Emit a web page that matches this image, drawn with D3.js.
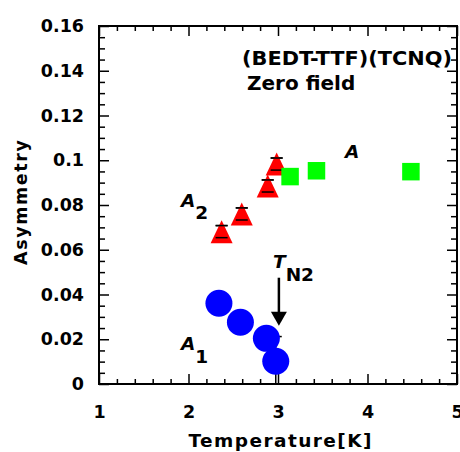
<!DOCTYPE html>
<html>
<head>
<meta charset="utf-8">
<script src="https://cdn.jsdelivr.net/npm/d3@7/dist/d3.min.js"></script>
<style>
  body { margin: 0; background: #fff; }
  svg text { font-family: "DejaVu Sans", Arial, sans-serif; font-weight: bold; fill: #000; }
</style>
</head>
<body>
<div id="chart"></div>
<script>
// A1 (blue circles)
const a1Temp = [2.34, 2.58, 2.87, 2.975];
const a1Asym = [0.0361, 0.0276, 0.0204, 0.0102];
const a1Err = [0.003, 0.003, 0.003, 0.011];

// A2 (red triangles)
const a2Temp = [2.37, 2.595, 2.885, 2.985];
const a2Asym = [0.0681, 0.076, 0.0885, 0.0983];
const a2Err = [0.0027, 0.0027, 0.0027, 0.0027];

// A (green squares)
const aTemp = [3.135, 3.43, 4.485];
const aAsym = [0.0927, 0.0953, 0.0949];

const xTicks = [1, 2, 3, 4, 5];
const yTicks = [0, 0.02, 0.04, 0.06, 0.08, 0.1, 0.12, 0.14, 0.16];

// T_N2 arrow (temperature, from asymmetry, to asymmetry)
const tn2Arrow = [3.01, 0.0475, 0.026];

const width = 460, height = 452;
const margin = { top: 26, right: 3, bottom: 68, left: 99 };
const innerW = width - margin.left - margin.right;
const innerH = height - margin.top - margin.bottom;

const svg = d3.select("#chart").append("svg")
  .attr("width", width)
  .attr("height", height);

const g = svg.append("g")
  .attr("transform", "translate(" + margin.left + "," + margin.top + ")");

const x = d3.scaleLinear().domain([1, 5]).range([0, innerW]);
const y = d3.scaleLinear().domain([0, 0.16]).range([innerH, 0]);

const xMinor = d3.range(1, 5.001, 0.2).filter(v => Math.abs(v - Math.round(v)) > 1e-6);
const yMinor = d3.range(0, 0.1601, 0.005).filter(v => Math.abs(v / 0.02 - Math.round(v / 0.02)) > 1e-6);

const fmtY = d => d === 0 ? "0" : String(+d.toFixed(2));

// major axes with labels (ticks pointing inward)
g.append("g").attr("class", "axis")
  .attr("transform", "translate(0," + innerH + ")")
  .call(d3.axisBottom(x).tickValues(xTicks).tickSize(-10).tickSizeOuter(0).tickPadding(22).tickFormat(d3.format("d")));
g.append("g").attr("class", "axis")
  .call(d3.axisLeft(y).tickValues(yTicks).tickSize(-10).tickSizeOuter(0).tickPadding(15).tickFormat(fmtY));
g.append("g").attr("class", "axis")
  .call(d3.axisTop(x).tickValues(xTicks).tickSize(-10).tickSizeOuter(0).tickFormat(""));
g.append("g").attr("class", "axis")
  .attr("transform", "translate(" + innerW + ",0)")
  .call(d3.axisRight(y).tickValues(yTicks).tickSize(-10).tickSizeOuter(0).tickFormat(""));

// minor ticks
g.append("g").attr("class", "axis")
  .attr("transform", "translate(0," + innerH + ")")
  .call(d3.axisBottom(x).tickValues(xMinor).tickSize(-5).tickSizeOuter(0).tickFormat(""));
g.append("g").attr("class", "axis")
  .call(d3.axisTop(x).tickValues(xMinor).tickSize(-5).tickSizeOuter(0).tickFormat(""));
g.append("g").attr("class", "axis")
  .call(d3.axisLeft(y).tickValues(yMinor).tickSize(-6).tickSizeOuter(0).tickFormat(""));
g.append("g").attr("class", "axis")
  .attr("transform", "translate(" + innerW + ",0)")
  .call(d3.axisRight(y).tickValues(yMinor).tickSize(-6).tickSizeOuter(0).tickFormat(""));

g.selectAll(".axis .domain").remove();
g.selectAll(".axis line").attr("stroke", "#000").attr("stroke-width", 1.5);
g.selectAll(".axis text")
  .style("font-size", "17.5px")
  .style("font-family", "'DejaVu Sans', Arial, sans-serif")
  .style("font-weight", "bold")
  .attr("fill", "#000");

g.append("rect")
  .attr("width", innerW).attr("height", innerH)
  .attr("fill", "none").attr("stroke", "#000").attr("stroke-width", 2);

// clip for error bars
svg.append("defs").append("clipPath").attr("id", "plotClip")
  .append("rect").attr("width", innerW).attr("height", innerH);

const plot = g.append("g").attr("clip-path", "url(#plotClip)");

const a1 = a1Temp.map((t, i) => ({ t: t, v: a1Asym[i], e: a1Err[i] }));
const a2 = a2Temp.map((t, i) => ({ t: t, v: a2Asym[i], e: a2Err[i] }));
const aa = aTemp.map((t, i) => ({ t: t, v: aAsym[i] }));

function errorBars(sel, data, capOnly) {
  const eb = sel.selectAll(null).data(data).enter().append("g");
  if (!capOnly) {
    eb.append("line")
      .attr("x1", d => x(d.t)).attr("x2", d => x(d.t))
      .attr("y1", d => y(d.v + d.e)).attr("y2", d => y(d.v - d.e))
      .attr("stroke", "#000").attr("stroke-width", 1.5);
  }
  eb.append("line")
    .attr("x1", d => x(d.t) - 6).attr("x2", d => x(d.t) + 6)
    .attr("y1", d => y(d.v + d.e)).attr("y2", d => y(d.v + d.e))
    .attr("stroke", "#000").attr("stroke-width", 1.5);
  eb.append("line")
    .attr("x1", d => x(d.t) - 6).attr("x2", d => x(d.t) + 6)
    .attr("y1", d => y(d.v - d.e)).attr("y2", d => y(d.v - d.e))
    .attr("stroke", "#000").attr("stroke-width", 1.5);
}

// circles: error bars behind markers
errorBars(plot, a1, false);
plot.selectAll(null).data(a1).enter().append("circle")
  .attr("cx", d => x(d.t)).attr("cy", d => y(d.v))
  .attr("r", 13.5).attr("fill", "#0000ff");

// triangles
errorBars(plot, a2, false);
plot.selectAll(null).data(a2).enter().append("path")
  .attr("d", "M0,-11.5L11,11.5L-11,11.5Z")
  .attr("transform", d => "translate(" + x(d.t) + "," + y(d.v) + ")")
  .attr("fill", "#ff0000");
errorBars(plot, a2, true);

// squares
plot.selectAll(null).data(aa).enter().append("rect")
  .attr("x", d => x(d.t) - 8.75).attr("y", d => y(d.v) - 8.75)
  .attr("width", 17.5).attr("height", 17.5)
  .attr("fill", "#00ff00");

// T_N2 arrow
const ax = x(tn2Arrow[0]);
g.append("line")
  .attr("x1", ax).attr("x2", ax)
  .attr("y1", y(tn2Arrow[1])).attr("y2", y(tn2Arrow[2]) - 10)
  .attr("stroke", "#000").attr("stroke-width", 2.5);
g.append("path")
  .attr("d", "M" + (ax - 8) + "," + (y(tn2Arrow[2]) - 14) + "L" + (ax + 8) + "," + (y(tn2Arrow[2]) - 14) + "L" + ax + "," + y(tn2Arrow[2]) + "Z")
  .attr("fill", "#000");

// annotations
function label(px, py, main, sub, size) {
  const t = svg.append("text").attr("x", px).attr("y", py).style("font-size", size + "px");
  t.append("tspan").style("font-style", "italic").text(main);
  if (sub) t.append("tspan").attr("dy", 12.5).text(sub);
}
label(181, 206.5, "A", "2", 18.5);
label(181, 350, "A", "1", 18.5);
label(345, 158, "A", null, 18.5);
label(273, 268, "T", "N2", 18.5);

svg.append("text").attr("x", 242).attr("y", 65)
  .attr("textLength", 210).attr("lengthAdjust", "spacingAndGlyphs")
  .style("font-size", "20px").text("(BEDT-TTF)(TCNQ)");
svg.append("text").attr("x", 247).attr("y", 90)
  .style("font-size", "20px").text("Zero field");

// axis titles
svg.append("text")
  .attr("x", 280).attr("y", 446.5)
  .attr("text-anchor", "middle")
  .attr("textLength", 183).attr("lengthAdjust", "spacing")
  .style("font-size", "18.5px")
  .text("Temperature[K]");

svg.append("text")
  .attr("transform", "translate(27,202.5) rotate(-90)")
  .attr("text-anchor", "middle")
  .attr("textLength", 125).attr("lengthAdjust", "spacing")
  .style("font-size", "17.5px")
  .text("Asymmetry");
</script>
</body>
</html>
